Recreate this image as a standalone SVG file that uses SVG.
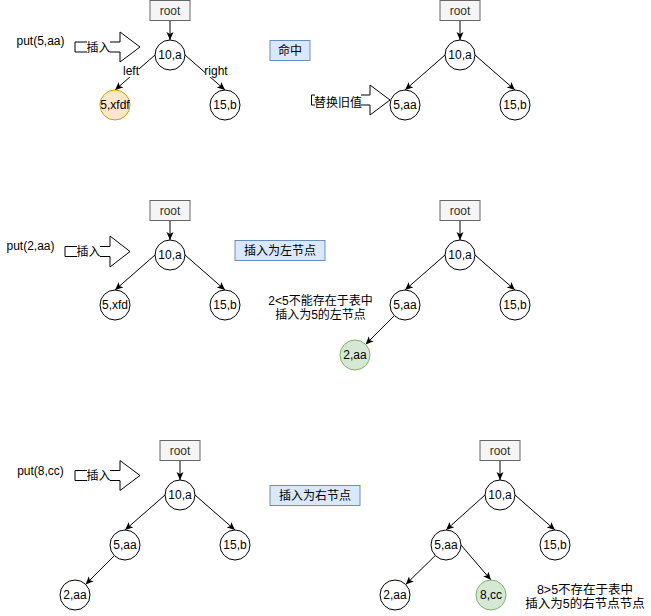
<svg xmlns="http://www.w3.org/2000/svg" width="651" height="616" viewBox="0 0 651 616">
<defs>
<style>
text{font-family:"Liberation Sans","Noto Sans CJK SC",sans-serif;font-size:12px;fill:#000;text-anchor:middle}
.root rect{fill:#f5f5f5;stroke:#666666;stroke-width:1}
.root text{fill:#333333}
.n circle{fill:#ffffff;stroke:#000;stroke-width:1}
.n.orange circle{fill:#ffe6cc;stroke:#d79b00}
.n.green circle{fill:#d5e8d4;stroke:#82b366}
.blue rect{fill:#dae8fc;stroke:#6c8ebf;stroke-width:1}
.e line{stroke:#000;stroke-width:1;marker-end:url(#ah)}
.ba polygon{fill:#fff;stroke:#000;stroke-width:1}
.bg{fill:#fff}
.note{font-size:12px}
.note2{font-size:12.5px}
</style>
<marker id="ah" viewBox="0 0 8 8" refX="8" refY="4" markerWidth="8" markerHeight="8" markerUnits="userSpaceOnUse" orient="auto">
<path d="M0,0.5 L8,4 L0,7.5 L2,4 Z" fill="#000"/>
</marker>
</defs>
<rect width="651" height="616" fill="#fff"/>

<g id="connectors" class="e">
<line x1="170" y1="20.5" x2="170" y2="40"/>
<line x1="155" y1="55" x2="115" y2="90"/>
<line x1="185" y1="55" x2="225" y2="90"/>
<line x1="460" y1="20.5" x2="460" y2="40"/>
<line x1="445" y1="55" x2="405" y2="90"/>
<line x1="475" y1="55" x2="515" y2="90"/>
<line x1="170" y1="220.5" x2="170" y2="240"/>
<line x1="155" y1="255" x2="115" y2="290"/>
<line x1="185" y1="255" x2="225" y2="290"/>
<line x1="460" y1="220.5" x2="460" y2="240"/>
<line x1="445" y1="255" x2="405" y2="290"/>
<line x1="475" y1="255" x2="515" y2="290"/>
<line x1="394.4" y1="315.6" x2="365.6" y2="344.4"/>
<line x1="180" y1="460.5" x2="180" y2="480"/>
<line x1="165" y1="495" x2="125" y2="530"/>
<line x1="195" y1="495" x2="235" y2="530"/>
<line x1="114.4" y1="555.6" x2="85.6" y2="584.4"/>
<line x1="500" y1="460.5" x2="500" y2="480"/>
<line x1="485" y1="495" x2="446" y2="530"/>
<line x1="515" y1="495" x2="555" y2="530"/>
<line x1="435.3" y1="555.5" x2="405.7" y2="584.5"/>
<line x1="461" y1="545" x2="491" y2="580"/>
</g>

<g id="edge-labels">
<rect class="bg" x="123" y="64" width="16" height="13"/>
<text x="131" y="75">left</text>
<rect class="bg" x="205" y="64" width="22" height="13"/>
<text x="216" y="75">right</text>
</g>

<!-- Panel 1 -->
<g id="root1" class="root"><rect x="150" y="0.5" width="40" height="20"/><text x="170" y="15">root</text></g>
<g id="n1_10a" class="n"><circle cx="170" cy="55" r="15"/><text x="170" y="59">10,a</text></g>
<g id="n1_5xfdf" class="n orange"><circle cx="115" cy="105" r="15"/><text x="115" y="109">5,xfdf</text></g>
<g id="n1_15b" class="n"><circle cx="225" cy="105" r="15"/><text x="225" y="109">15,b</text></g>
<g id="put1"><text x="40.5" y="45">put(5,aa)</text></g>
<g id="arrow1" class="ba"><polygon points="75,42 120,42 120,32 140,47 120,62 120,52 75,52"/><rect class="bg" x="87" y="40" width="23" height="14"/><text x="98.5" y="52">插入</text></g>
<g id="hit" class="blue"><rect x="270" y="40.5" width="40" height="20"/><text x="290" y="55">命中</text></g>

<!-- Panel 2 -->
<g id="root2" class="root"><rect x="440" y="0.5" width="40" height="20"/><text x="460" y="15">root</text></g>
<g id="n2_10a" class="n"><circle cx="460" cy="55" r="15"/><text x="460" y="59">10,a</text></g>
<g id="n2_5aa" class="n"><circle cx="405" cy="105" r="15"/><text x="405" y="109">5,aa</text></g>
<g id="n2_15b" class="n"><circle cx="515" cy="105" r="15"/><text x="515" y="109">15,b</text></g>
<g id="arrow2" class="ba"><polygon points="311.5,95 370,95 370,85 390,100 370,115 370,105 311.5,105"/><rect class="bg" x="315" y="93" width="46" height="16"/><text x="338" y="107">替换旧值</text></g>

<!-- Panel 3 -->
<g id="root3" class="root"><rect x="150" y="200.5" width="40" height="20"/><text x="170" y="215">root</text></g>
<g id="n3_10a" class="n"><circle cx="170" cy="255" r="15"/><text x="170" y="259">10,a</text></g>
<g id="n3_5xfd" class="n"><circle cx="115" cy="305" r="15"/><text x="115" y="309">5,xfd</text></g>
<g id="n3_15b" class="n"><circle cx="225" cy="305" r="15"/><text x="225" y="309">15,b</text></g>
<g id="put2"><text x="30.5" y="250">put(2,aa)</text></g>
<g id="arrow3" class="ba"><polygon points="65,246.5 110,246.5 110,236 130,251.5 110,267 110,256.5 65,256.5"/><rect class="bg" x="77" y="244.5" width="23" height="14"/><text x="88.5" y="256">插入</text></g>
<g id="leftnode" class="blue"><rect x="235" y="240.5" width="90" height="20"/><text x="280" y="255">插入为左节点</text></g>

<!-- Panel 4 -->
<g id="root4" class="root"><rect x="440" y="200.5" width="40" height="20"/><text x="460" y="215">root</text></g>
<g id="n4_10a" class="n"><circle cx="460" cy="255" r="15"/><text x="460" y="259">10,a</text></g>
<g id="n4_5aa" class="n"><circle cx="405" cy="305" r="15"/><text x="405" y="309">5,aa</text></g>
<g id="n4_15b" class="n"><circle cx="515" cy="305" r="15"/><text x="515" y="309">15,b</text></g>
<g id="n4_2aa" class="n green"><circle cx="355" cy="355" r="15"/><text x="355" y="359">2,aa</text></g>
<g id="note1"><text class="note" x="320.5" y="304.5">2&lt;5不能存在于表中</text><text class="note" x="320.5" y="318.5">插入为5的左节点</text></g>

<!-- Panel 5 -->
<g id="root5" class="root"><rect x="160" y="440.5" width="40" height="20"/><text x="180" y="455">root</text></g>
<g id="n5_10a" class="n"><circle cx="180" cy="495" r="15"/><text x="180" y="499">10,a</text></g>
<g id="n5_5aa" class="n"><circle cx="125" cy="545" r="15"/><text x="125" y="549">5,aa</text></g>
<g id="n5_15b" class="n"><circle cx="235" cy="545" r="15"/><text x="235" y="549">15,b</text></g>
<g id="n5_2aa" class="n"><circle cx="75" cy="595" r="15"/><text x="75" y="599">2,aa</text></g>
<g id="put3"><text x="40.5" y="475">put(8,cc)</text></g>
<g id="arrow5" class="ba"><polygon points="75,470.5 120,470.5 120,460.5 140,475.5 120,490.5 120,480.5 75,480.5"/><rect class="bg" x="87" y="468.5" width="23" height="14"/><text x="98.5" y="480">插入</text></g>
<g id="rightnode" class="blue"><rect x="270" y="485.5" width="90" height="20"/><text x="315" y="500">插入为右节点</text></g>

<!-- Panel 6 -->
<g id="root6" class="root"><rect x="480" y="440.5" width="40" height="20"/><text x="500" y="455">root</text></g>
<g id="n6_10a" class="n"><circle cx="500" cy="495" r="15"/><text x="500" y="499">10,a</text></g>
<g id="n6_5aa" class="n"><circle cx="446" cy="545" r="15"/><text x="446" y="549">5,aa</text></g>
<g id="n6_15b" class="n"><circle cx="555" cy="545" r="15"/><text x="555" y="549">15,b</text></g>
<g id="n6_2aa" class="n"><circle cx="395" cy="595" r="15"/><text x="395" y="599">2,aa</text></g>
<g id="n6_8cc" class="n green"><circle cx="491" cy="595" r="15"/><text x="491" y="599">8,cc</text></g>
<g id="note2"><text class="note2" x="585" y="593.5">8&gt;5不存在于表中</text><text class="note2" x="585" y="607.5">插入为5的右节点节点</text></g>
</svg>
